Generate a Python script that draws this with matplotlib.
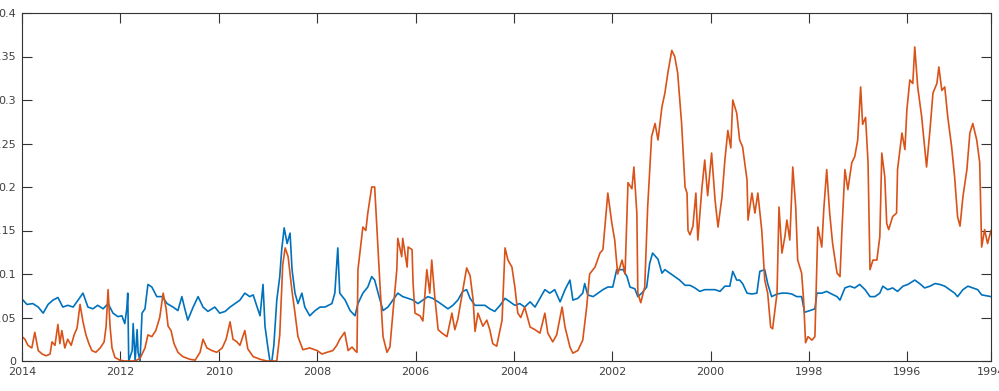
import matplotlib
matplotlib.use('Agg')
import matplotlib.pyplot as plt

# 橙色序列 (年份, 数值)
orange_year = [2014.00, 2013.94, 2013.88, 2013.80, 2013.74, 2013.67, 2013.59, 2013.51, 2013.43, 2013.39,
               2013.33, 2013.27, 2013.23, 2013.19, 2013.13, 2013.07, 2013.00, 2012.94, 2012.88, 2012.82,
               2012.76, 2012.70, 2012.64, 2012.58, 2012.50, 2012.41, 2012.33, 2012.29, 2012.25, 2012.21,
               2012.17, 2012.11, 2012.01, 2011.91, 2011.80, 2011.70, 2011.60, 2011.50, 2011.44, 2011.36,
               2011.28, 2011.20, 2011.13, 2011.07, 2011.03, 2010.97, 2010.91, 2010.83, 2010.73, 2010.59,
               2010.48, 2010.38, 2010.32, 2010.24, 2010.14, 2010.04, 2009.93, 2009.85, 2009.77, 2009.71,
               2009.63, 2009.57, 2009.47, 2009.41, 2009.30, 2009.16, 2009.02, 2008.82, 2008.76, 2008.70,
               2008.65, 2008.59, 2008.51, 2008.45, 2008.39, 2008.29, 2008.15, 2008.00, 2007.90, 2007.80,
               2007.68, 2007.60, 2007.54, 2007.44, 2007.37, 2007.29, 2007.23, 2007.19, 2007.17, 2007.07,
               2007.01, 2006.97, 2006.89, 2006.83, 2006.76, 2006.72, 2006.66, 2006.58, 2006.52, 2006.46,
               2006.38, 2006.36, 2006.28, 2006.26, 2006.17, 2006.15, 2006.07, 2006.05, 2006.01, 2005.91,
               2005.85, 2005.77, 2005.71, 2005.67, 2005.61, 2005.54, 2005.46, 2005.36, 2005.30, 2005.26,
               2005.20, 2005.14, 2005.04, 2004.96, 2004.89, 2004.83, 2004.79, 2004.73, 2004.63, 2004.55,
               2004.49, 2004.43, 2004.35, 2004.24, 2004.18, 2004.12, 2004.04, 2003.98, 2003.92, 2003.86,
               2003.78, 2003.67, 2003.57, 2003.47, 2003.37, 2003.31, 2003.21, 2003.13, 2003.02, 2002.96,
               2002.86, 2002.80, 2002.70, 2002.60, 2002.52, 2002.46, 2002.35, 2002.25, 2002.19, 2002.09,
               2002.01, 2001.95, 2001.89, 2001.80, 2001.74, 2001.68, 2001.60, 2001.56, 2001.50, 2001.48,
               2001.42, 2001.34, 2001.28, 2001.20, 2001.13, 2001.07, 2000.99, 2000.93, 2000.87, 2000.79,
               2000.73, 2000.67, 2000.59, 2000.52, 2000.48, 2000.46, 2000.42, 2000.36, 2000.30, 2000.26,
               2000.18, 2000.12, 2000.06, 1999.98, 1999.91, 1999.85, 1999.77, 1999.71, 1999.65, 1999.59,
               1999.55, 1999.47, 1999.41, 1999.35, 1999.26, 1999.24, 1999.16, 1999.10, 1999.04, 1998.96,
               1998.90, 1998.84, 1998.78, 1998.74, 1998.65, 1998.61, 1998.55, 1998.49, 1998.45, 1998.39,
               1998.33, 1998.27, 1998.23, 1998.15, 1998.11, 1998.07, 1998.02, 1997.94, 1997.88, 1997.84,
               1997.82, 1997.74, 1997.70, 1997.64, 1997.58, 1997.52, 1997.43, 1997.37, 1997.33, 1997.27,
               1997.21, 1997.13, 1997.07, 1997.01, 1996.95, 1996.91, 1996.85, 1996.80, 1996.76, 1996.70,
               1996.62, 1996.56, 1996.52, 1996.46, 1996.42, 1996.38, 1996.30, 1996.22, 1996.20, 1996.11,
               1996.05, 1996.01, 1995.95, 1995.89, 1995.85, 1995.79, 1995.71, 1995.65, 1995.61, 1995.54,
               1995.48, 1995.40, 1995.36, 1995.30, 1995.24, 1995.18, 1995.10, 1995.04, 1994.98, 1994.93,
               1994.87, 1994.79, 1994.73, 1994.67, 1994.59, 1994.53, 1994.49, 1994.43, 1994.37, 1994.30]
orange_val = [0.028, 0.025, 0.018, 0.015, 0.033, 0.012, 0.008, 0.006, 0.008, 0.022,
              0.018, 0.042, 0.020, 0.035, 0.015, 0.025, 0.018, 0.030, 0.038, 0.065,
              0.045, 0.030, 0.020, 0.012, 0.010, 0.015, 0.022, 0.040, 0.082, 0.040,
              0.015, 0.004, 0.001, 0.000, 0.000, 0.000, 0.003, 0.015, 0.030, 0.028,
              0.035, 0.050, 0.078, 0.060, 0.040, 0.035, 0.020, 0.010, 0.005, 0.002,
              0.001, 0.010, 0.025, 0.015, 0.012, 0.010, 0.015, 0.025, 0.045, 0.025,
              0.022, 0.018, 0.035, 0.014, 0.005, 0.002, 0.000, 0.000, 0.030, 0.110,
              0.130, 0.120, 0.080, 0.055, 0.028, 0.013, 0.015, 0.012, 0.008, 0.010,
              0.012, 0.018, 0.025, 0.033, 0.012, 0.016, 0.012, 0.010, 0.105, 0.154,
              0.150, 0.170, 0.200, 0.200, 0.128, 0.085, 0.028, 0.010, 0.016, 0.055,
              0.105, 0.141, 0.120, 0.141, 0.108, 0.131, 0.128, 0.090, 0.055, 0.052,
              0.046, 0.105, 0.078, 0.116, 0.075, 0.036, 0.032, 0.028, 0.044, 0.055,
              0.036, 0.048, 0.081, 0.107, 0.098, 0.071, 0.034, 0.055, 0.040, 0.047,
              0.036, 0.020, 0.017, 0.047, 0.130, 0.116, 0.108, 0.085, 0.055, 0.050,
              0.062, 0.039, 0.036, 0.032, 0.055, 0.032, 0.022, 0.030, 0.062, 0.039,
              0.016, 0.009, 0.012, 0.024, 0.062, 0.100, 0.108, 0.124, 0.128, 0.193,
              0.159, 0.139, 0.100, 0.116, 0.100, 0.205, 0.198, 0.223, 0.170, 0.078,
              0.067, 0.085, 0.177, 0.258, 0.273, 0.254, 0.292, 0.308, 0.331, 0.357,
              0.350, 0.331, 0.273, 0.200, 0.193, 0.150, 0.145, 0.155, 0.193, 0.139,
              0.197, 0.231, 0.190, 0.239, 0.185, 0.154, 0.188, 0.231, 0.265, 0.245,
              0.300, 0.285, 0.254, 0.246, 0.208, 0.162, 0.193, 0.170, 0.193, 0.150,
              0.093, 0.078, 0.039, 0.037, 0.078, 0.177, 0.124, 0.143, 0.162, 0.139,
              0.223, 0.177, 0.116, 0.101, 0.070, 0.021, 0.028, 0.024, 0.028, 0.113,
              0.154, 0.131, 0.174, 0.220, 0.170, 0.135, 0.101, 0.097, 0.151, 0.220,
              0.197, 0.228, 0.235, 0.254, 0.315, 0.272, 0.280, 0.228, 0.105, 0.116,
              0.116, 0.143, 0.239, 0.212, 0.158, 0.151, 0.166, 0.170, 0.220, 0.262,
              0.243, 0.289, 0.323, 0.319, 0.361, 0.315, 0.281, 0.246, 0.223, 0.266,
              0.308, 0.319, 0.338, 0.311, 0.315, 0.281, 0.246, 0.212, 0.166, 0.155,
              0.189, 0.220, 0.262, 0.273, 0.254, 0.228, 0.131, 0.151, 0.135, 0.150]

# 蓝色序列 (年份, 数值)
blue_year = [2013.98, 2013.90, 2013.78, 2013.67, 2013.57, 2013.47, 2013.37, 2013.27, 2013.17, 2013.07,
             2012.96, 2012.86, 2012.76, 2012.66, 2012.56, 2012.46, 2012.35, 2012.25, 2012.15, 2012.05,
             2011.97, 2011.91, 2011.87, 2011.85, 2011.83, 2011.76, 2011.74, 2011.70, 2011.66, 2011.64,
             2011.60, 2011.56, 2011.50, 2011.44, 2011.36, 2011.26, 2011.15, 2011.05, 2010.93, 2010.83,
             2010.75, 2010.69, 2010.63, 2010.52, 2010.42, 2010.32, 2010.22, 2010.08, 2009.98, 2009.87,
             2009.77, 2009.67, 2009.57, 2009.47, 2009.37, 2009.30, 2009.22, 2009.16, 2009.10, 2009.06,
             2009.00, 2008.96, 2008.92, 2008.88, 2008.82, 2008.76, 2008.72, 2008.67, 2008.61, 2008.55,
             2008.51, 2008.45, 2008.39, 2008.31, 2008.25, 2008.15, 2008.04, 2007.94, 2007.84, 2007.70,
             2007.64, 2007.58, 2007.54, 2007.43, 2007.33, 2007.23, 2007.17, 2007.07, 2006.97, 2006.89,
             2006.83, 2006.76, 2006.66, 2006.56, 2006.46, 2006.36, 2006.26, 2006.15, 2006.05, 2005.95,
             2005.85, 2005.75, 2005.65, 2005.54, 2005.44, 2005.34, 2005.24, 2005.14, 2005.04, 2004.96,
             2004.89, 2004.79, 2004.69, 2004.59, 2004.49, 2004.39, 2004.28, 2004.18, 2004.08, 2003.98,
             2003.88, 2003.78, 2003.67, 2003.57, 2003.47, 2003.37, 2003.27, 2003.17, 2003.06, 2002.96,
             2002.86, 2002.80, 2002.70, 2002.60, 2002.56, 2002.50, 2002.39, 2002.29, 2002.19, 2002.09,
             2001.99, 2001.91, 2001.85, 2001.78, 2001.70, 2001.64, 2001.54, 2001.48, 2001.40, 2001.30,
             2001.24, 2001.18, 2001.07, 2000.99, 2000.93, 2000.83, 2000.73, 2000.63, 2000.52, 2000.42,
             2000.32, 2000.22, 2000.12, 2000.02, 1999.91, 1999.81, 1999.71, 1999.61, 1999.55, 1999.47,
             1999.41, 1999.35, 1999.26, 1999.16, 1999.06, 1999.00, 1998.90, 1998.84, 1998.76, 1998.65,
             1998.55, 1998.45, 1998.35, 1998.25, 1998.15, 1998.09, 1997.98, 1997.88, 1997.84, 1997.74,
             1997.64, 1997.54, 1997.43, 1997.37, 1997.27, 1997.17, 1997.07, 1996.97, 1996.86, 1996.76,
             1996.66, 1996.56, 1996.50, 1996.40, 1996.30, 1996.20, 1996.09, 1995.99, 1995.85, 1995.75,
             1995.65, 1995.54, 1995.44, 1995.34, 1995.24, 1995.14, 1995.04, 1994.98, 1994.87, 1994.77,
             1994.67, 1994.57, 1994.49, 1994.39, 1994.30]
blue_val = [0.070, 0.065, 0.066, 0.062, 0.055, 0.065, 0.070, 0.073, 0.062, 0.064,
            0.062, 0.070, 0.078, 0.062, 0.060, 0.064, 0.060, 0.066, 0.055, 0.051,
            0.052, 0.043, 0.060, 0.078, 0.000, 0.012, 0.043, 0.000, 0.036, 0.010,
            0.000, 0.055, 0.060, 0.088, 0.085, 0.074, 0.074, 0.066, 0.062, 0.058,
            0.074, 0.060, 0.047, 0.062, 0.074, 0.062, 0.057, 0.062, 0.055, 0.057,
            0.062, 0.066, 0.070, 0.078, 0.074, 0.076, 0.062, 0.052, 0.088, 0.040,
            0.015, 0.000, 0.000, 0.018, 0.070, 0.097, 0.128, 0.153, 0.135, 0.147,
            0.105, 0.078, 0.066, 0.078, 0.062, 0.052, 0.058, 0.062, 0.062, 0.066,
            0.078, 0.130, 0.078, 0.070, 0.058, 0.052, 0.066, 0.078, 0.085, 0.097,
            0.093, 0.078, 0.058, 0.062, 0.070, 0.078, 0.074, 0.072, 0.070, 0.066,
            0.070, 0.074, 0.072, 0.068, 0.064, 0.060, 0.064, 0.070, 0.080, 0.082,
            0.072, 0.064, 0.064, 0.064, 0.060, 0.057, 0.064, 0.072, 0.068, 0.064,
            0.066, 0.062, 0.068, 0.062, 0.072, 0.082, 0.078, 0.082, 0.068, 0.082,
            0.093, 0.070, 0.072, 0.078, 0.089, 0.076, 0.074, 0.078, 0.082, 0.085,
            0.085, 0.105, 0.105, 0.105, 0.097, 0.085, 0.083, 0.074, 0.078, 0.085,
            0.112, 0.124, 0.117, 0.101, 0.105, 0.101, 0.097, 0.093, 0.087, 0.087,
            0.084, 0.080, 0.082, 0.082, 0.082, 0.080, 0.086, 0.086, 0.103, 0.093,
            0.093, 0.089, 0.078, 0.077, 0.078, 0.103, 0.105, 0.089, 0.074, 0.077,
            0.078, 0.078, 0.077, 0.074, 0.074, 0.056, 0.058, 0.060, 0.078, 0.078,
            0.080, 0.077, 0.074, 0.070, 0.084, 0.086, 0.084, 0.088, 0.082, 0.074,
            0.074, 0.078, 0.086, 0.082, 0.084, 0.080, 0.086, 0.088, 0.093, 0.089,
            0.084, 0.086, 0.089, 0.088, 0.086, 0.082, 0.078, 0.074, 0.082, 0.086,
            0.084, 0.082, 0.076, 0.075, 0.074]

x_left = 2014
x_right = 1994.3
tick_years = [2014, 2012, 2010, 2008, 2006, 2004, 2002, 2000, 1998, 1996, 1994.3]
tick_labels = ['2014', '2012', '2010', '2008', '2006', '2004', '2002', '2000', '1998', '1996', '1994']
ytick_vals = [0, 0.05, 0.1, 0.15, 0.2, 0.25, 0.3, 0.35, 0.4]
ytick_labels = ['0', '0.05', '0.1', '0.15', '0.2', '0.25', '0.3', '0.35', '0.4']

fig = plt.figure(figsize=(9.99, 3.91), dpi=100)
ax = fig.add_axes([22 / 999, 30 / 391, 969 / 999, 348 / 391])

ax.plot(blue_year, blue_val, color='#0072BD', lw=1.2)
ax.plot(orange_year, orange_val, color='#D95319', lw=1.2)

ax.set_xlim(x_left, x_right)
ax.set_ylim(0, 0.4)
ax.set_xticks(tick_years)
ax.set_xticklabels(tick_labels)
ax.set_yticks(ytick_vals)
ax.set_yticklabels(ytick_labels)

# MATLAB 风格: 刻度朝内, 四边都有
ax.tick_params(direction='in', length=7, width=0.8, color='#333333',
               labelsize=8, labelcolor='#404040', top=True, right=True, pad=4.5)
for s in ax.spines.values():
    s.set_color('#333333')
    s.set_linewidth(0.8)

fig.savefig('out.png', dpi=100)
